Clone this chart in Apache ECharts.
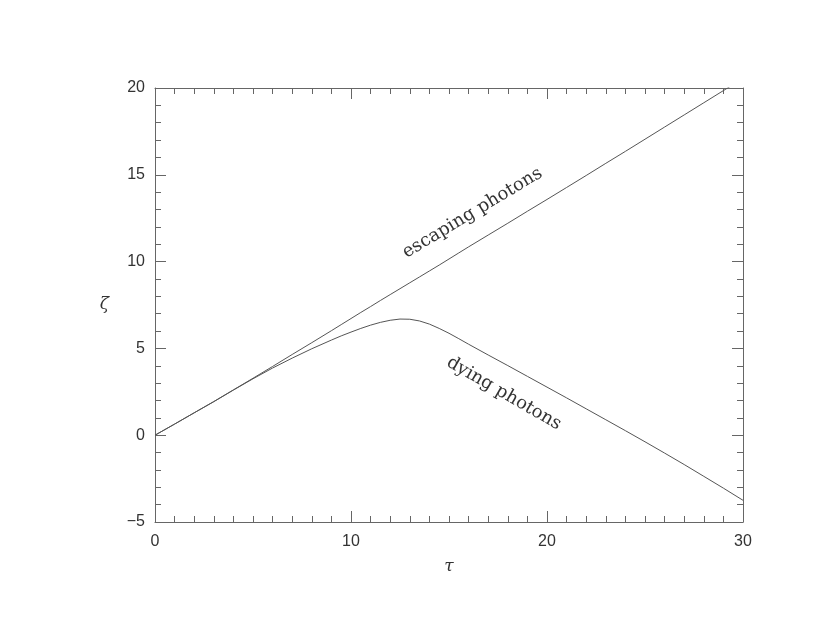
<!DOCTYPE html>
<html>
<head>
<meta charset="utf-8">
<script src="https://cdn.jsdelivr.net/npm/echarts@6/dist/echarts.min.js"></script>
<style>
  html, body { margin: 0; padding: 0; background: #fff; }
  #chart { width: 830px; height: 642px; }
</style>
</head>
<body>
<div id="chart"></div>
<script>
    // values
    var tau = [0, 1, 2, 3, 4, 5, 6, 7, 8, 9, 9.5, 10, 10.5, 11, 11.5, 12, 12.5, 13, 13.5, 14, 14.5,
        15, 15.5, 16, 17, 18, 19, 20, 21, 22, 23, 24, 25, 26, 27, 28, 29, 30];
    var escaping = [0, 0.64, 1.29, 1.94, 2.61, 3.28, 3.96, 4.65, 5.33, 6.02, 6.37, 6.72, 7.07, 7.41,
        7.76, 8.1, 8.44, 8.78, 9.12, 9.46, 9.8, 10.15, 10.5, 10.85, 11.53, 12.21, 12.9, 13.58,
        14.27, 14.96, 15.66, 16.35, 17.05, 17.75, 18.45, 19.15, 19.85, 20.55];
    var dying = [0, 0.64, 1.29, 1.93, 2.6, 3.25, 3.87, 4.44, 4.98, 5.48, 5.72, 5.94, 6.15, 6.34,
        6.5, 6.62, 6.69, 6.68, 6.58, 6.4, 6.15, 5.87, 5.56, 5.24, 4.62, 4.01, 3.39, 2.77,
        2.15, 1.52, 0.89, 0.26, -0.38, -1.03, -1.69, -2.37, -3.05, -3.75];
    var curveNames = ['escaping photons', 'dying photons'];
    // label anchor (tau, zeta) and rotation in degrees
    var labelSpots = [[16.2, 12.8, 31], [17.8, 2.4, -30]];

    var axisColor = '#666';
    var textColor = '#333';

    function pairs(ys) {
        return tau.map(function (t, i) { return [t, ys[i]]; });
    }

    function xAx(pos, showLabel) {
        return {
            type: 'value', position: pos, min: 0, max: 30, interval: 10,
            name: showLabel ? 'τ' : '', nameLocation: 'middle', nameGap: 36,
            nameTextStyle: { fontFamily: 'DejaVu Serif', fontStyle: 'italic', fontSize: 17, color: textColor },
            axisLine: { show: true, onZero: false, lineStyle: { color: axisColor, width: 1 } },
            axisTick: { show: true, inside: true, length: 11, lineStyle: { color: axisColor } },
            minorTick: { show: true, splitNumber: 10, length: 6, lineStyle: { color: axisColor } },
            axisLabel: { show: showLabel, margin: 12, fontFamily: 'Liberation Sans', fontSize: 16, color: textColor },
            splitLine: { show: false }
        };
    }

    function yAx(pos, showLabel) {
        return {
            type: 'value', position: pos, min: -5, max: 20, interval: 5,
            name: showLabel ? 'ζ' : '', nameLocation: 'middle', nameGap: 46, nameRotate: 0,
            nameTextStyle: { fontFamily: 'DejaVu Serif', fontStyle: 'italic', fontSize: 17, color: textColor },
            axisLine: { show: true, onZero: false, lineStyle: { color: axisColor, width: 1 } },
            axisTick: { show: true, inside: true, length: 11, lineStyle: { color: axisColor } },
            minorTick: { show: true, splitNumber: 5, length: 6, lineStyle: { color: axisColor } },
            axisLabel: {
                show: showLabel, margin: 10, fontFamily: 'Liberation Sans', fontSize: 16, color: textColor,
                formatter: function (v) { return v < 0 ? '\u2212' + Math.abs(v) : String(v); }
            },
            splitLine: { show: false }
        };
    }

    var myChart = echarts.init(document.getElementById('chart'));
    var option = {
        animation: false,
        backgroundColor: '#fff',
        grid: { left: 155, right: 87, top: 88, bottom: 120 },
        xAxis: [xAx('bottom', true), xAx('top', false)],
        yAxis: [yAx('left', true), yAx('right', false)],
        series: [
            {
                name: curveNames[0], type: 'line', data: pairs(escaping), clip: true,
                showSymbol: false, lineStyle: { color: '#555', width: 1 }
            },
            {
                name: curveNames[1], type: 'line', data: pairs(dying), clip: true,
                showSymbol: false, lineStyle: { color: '#555', width: 1 }
            }
        ]
    };
    myChart.setOption(option);

    // curve labels placed at data coordinates
    var texts = labelSpots.map(function (s, i) {
        var p = myChart.convertToPixel({ gridIndex: 0 }, [s[0], s[1]]);
        return {
            type: 'text', x: p[0], y: p[1], rotation: s[2] * Math.PI / 180,
            style: {
                text: curveNames[i], fontFamily: 'DejaVu Serif', fontSize: 18, fill: '#333',
                textAlign: 'center', textVerticalAlign: 'middle'
            }
        };
    });
    myChart.setOption({ graphic: texts });
</script>
</body>
</html>
